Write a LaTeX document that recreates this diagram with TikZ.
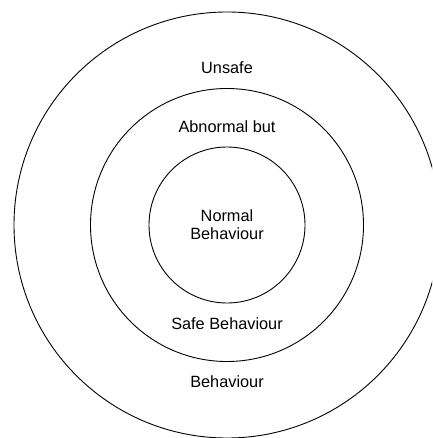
\documentclass[tikz,border=0pt]{standalone}
\usepackage{fontspec}
\setmainfont{Liberation Sans}
\usepackage{tikz}
\usetikzlibrary{positioning}

\begin{document}
\begin{tikzpicture}[
    x=1bp, y=-1bp,
    font={\fontsize{16.3bp}{18.3bp}\selectfont},
    ring/.style={circle,draw=black,line width=0.9bp,inner sep=0pt},
    txt/.style={text=black,align=center,inner sep=0pt},
]
    \useasboundingbox (0,0) rectangle (432,438);
    \clip (0,0) rectangle (432,438);

    % Rings
    \node[ring,minimum size=426bp] (outer)  at (227,225) {};
    \node[ring,minimum size=273bp] (middle) at (227,225) {};
    \node[ring,minimum size=156bp] (inner)  at (227,225) {};

    % Text
    \node[txt]             (normal)   at (inner.center) {Normal\\Behaviour};
    \node[txt,anchor=base] (unsafe)   at (227,73.3)  {Unsafe};
    \node[txt,anchor=base] (abnormal) at (227,132.7) {Abnormal but};
    \node[txt,anchor=base] (safe)     at (227,329.3) {Safe Behaviour};
    \node[txt,anchor=base] (behav)    at (227,387.7) {Behaviour};

\end{tikzpicture}
\end{document}
